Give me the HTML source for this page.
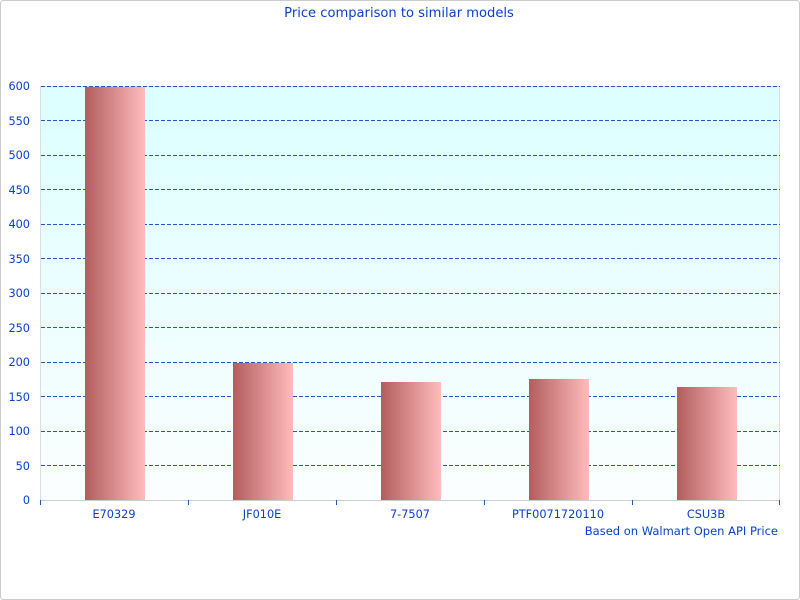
<!DOCTYPE html><html><head><style>body{margin:0;background:#fff}svg{display:block;font-family:"DejaVu Sans","Liberation Sans",sans-serif}</style></head><body>
<svg width="800" height="600" xmlns="http://www.w3.org/2000/svg">
<defs>
<linearGradient id="bg" x1="0" y1="0" x2="0" y2="1"><stop offset="0" stop-color="#dcffff"/><stop offset="1" stop-color="#fbfefe"/></linearGradient>
<linearGradient id="bar" x1="0" y1="0" x2="1" y2="0"><stop offset="0" stop-color="#b35d5d"/><stop offset="1" stop-color="#ffbcbc"/></linearGradient>
</defs>
<rect x="0.5" y="0.5" width="799" height="599" rx="3" fill="#fff" stroke="#ccc"/>
<text x="399" y="17" font-size="13.1" fill="#0a3fcc" text-anchor="middle">Price comparison to similar models</text>
<rect x="40.5" y="86.5" width="739" height="414" fill="url(#bg)" stroke="#ddd"/>
<g stroke="#2255cc" stroke-dasharray="4,2" stroke-width="1">
<line x1="41" x2="780" y1="86.5" y2="86.5"/><line x1="41" x2="780" y1="120.5" y2="120.5"/><line x1="41" x2="780" y1="155.5" y2="155.5"/><line x1="41" x2="780" y1="189.5" y2="189.5"/><line x1="41" x2="780" y1="224.5" y2="224.5"/><line x1="41" x2="780" y1="258.5" y2="258.5"/><line x1="41" x2="780" y1="293.5" y2="293.5"/><line x1="41" x2="780" y1="327.5" y2="327.5"/><line x1="41" x2="780" y1="362.5" y2="362.5"/><line x1="41" x2="780" y1="396.5" y2="396.5"/><line x1="41" x2="780" y1="431.5" y2="431.5"/><line x1="41" x2="780" y1="465.5" y2="465.5"/>
</g>
<g fill="url(#bar)">
<rect x="85" y="87" width="60" height="413"/>
<rect x="233" y="363" width="60" height="137"/>
<rect x="381" y="382" width="60" height="118"/>
<rect x="529" y="379" width="60" height="121"/>
<rect x="677" y="387" width="60" height="113"/>
</g>
<line x1="40" x2="780" y1="500.5" y2="500.5" stroke="#ccc"/>
<g stroke="#2255cc"><line x1="40.5" x2="40.5" y1="500" y2="505"/><line x1="188.5" x2="188.5" y1="500" y2="505"/><line x1="336.5" x2="336.5" y1="500" y2="505"/><line x1="484.5" x2="484.5" y1="500" y2="505"/><line x1="632.5" x2="632.5" y1="500" y2="505"/><line x1="779.5" x2="779.5" y1="500" y2="505"/></g>
<g font-size="11.3" fill="#0a3fcc" text-anchor="end">
<text x="30" y="504">0</text><text x="30" y="470">50</text><text x="30" y="435">100</text><text x="30" y="401">150</text><text x="30" y="366">200</text><text x="30" y="332">250</text><text x="30" y="297">300</text><text x="30" y="263">350</text><text x="30" y="228">400</text><text x="30" y="194">450</text><text x="30" y="159">500</text><text x="30" y="125">550</text><text x="30" y="90">600</text>
</g>
<g font-size="11.3" fill="#0a3fcc" text-anchor="middle">
<text x="114" y="518">E70329</text><text x="262" y="518">JF010E</text><text x="410" y="518">7-7507</text><text x="558" y="518">PTF0071720110</text><text x="706" y="518">CSU3B</text>
</g>
<text x="778" y="535" font-size="11.5" fill="#0a3fcc" text-anchor="end">Based on Walmart Open API Price</text>
</svg></body></html>
